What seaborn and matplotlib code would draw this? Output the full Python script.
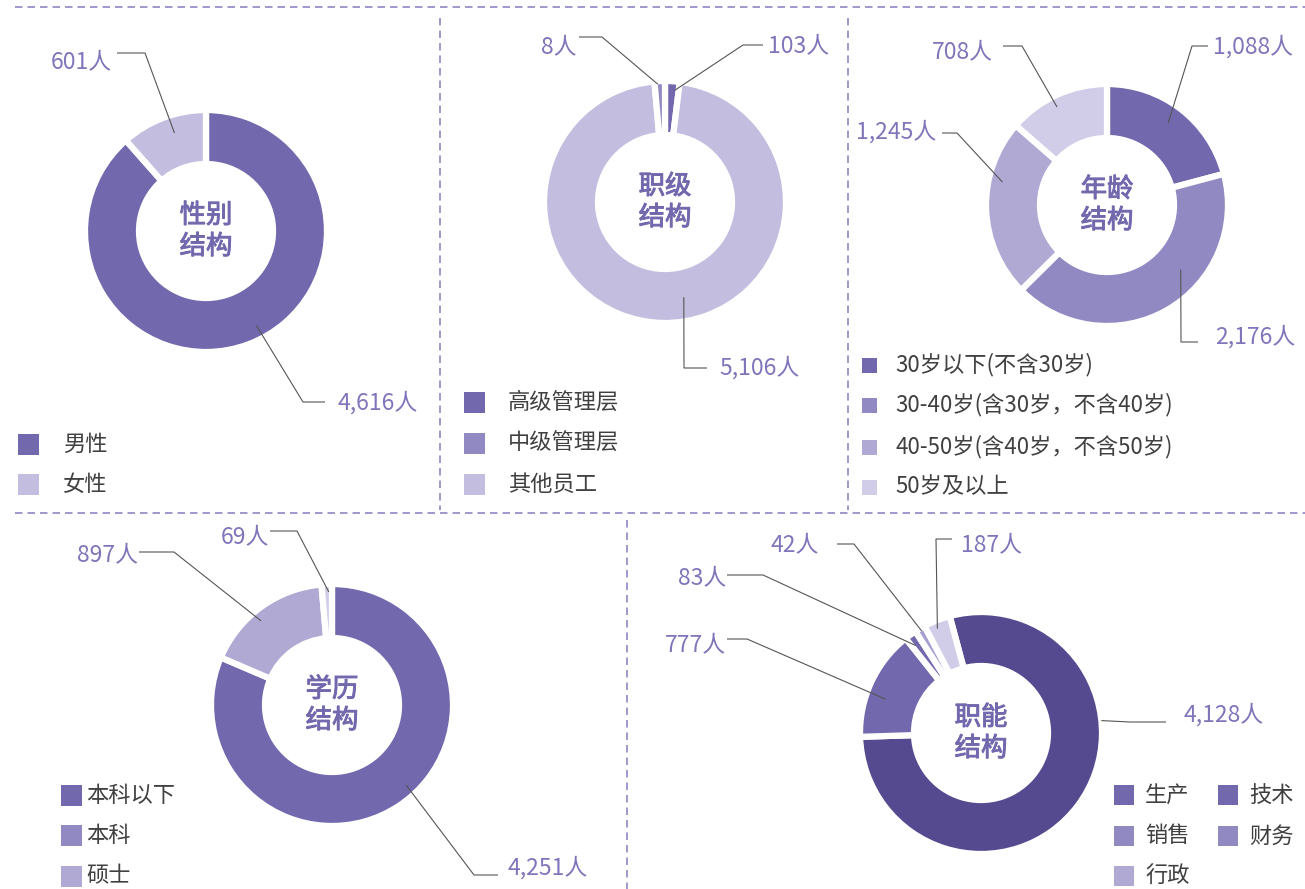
import numpy as np
import matplotlib
matplotlib.use('Agg')
import matplotlib.pyplot as plt
from matplotlib.patches import Rectangle
import matplotlib.patheffects as pe
import seaborn as sns

W, H = 1305, 889

# ---- data ----
gender_labels = ['男性', '女性']
gender_values = [4616, 601]

rank_labels = ['高级管理层', '中级管理层', '其他员工']
rank_values = [103, 8, 5106]
rank_order = [0, 2, 1]          # clockwise order of the slices

age_labels = ['30岁以下(不含30岁)', '30-40岁(含30岁，不含40岁)',
              '40-50岁(含40岁，不含50岁)', '50岁及以上']
age_values = [1088, 2176, 1245, 708]

edu_labels = ['本科以下', '本科', '硕士']
edu_values = [4251, 897, 69]

func_labels = ['生产', '技术', '销售', '财务', '行政']
func_values = [4128, 777, 83, 42, 187]

# ---- colours ----
DARKEST = '#554a90'
DARK = '#7268ad'
MID = '#9189c2'
LMID = '#b0a9d3'
LIGHT = '#c3bedf'
LIGHTEST = '#d1cce7'
LABEL_C = '#7e75ba'
TEXT_C = '#404040'
LINE_C = '#555555'
DASH_C = '#8f88c4'

R, RI = 121, 67

sns.set_theme(style='white')
plt.rcParams['font.family'] = ['Noto Sans CJK SC', 'DejaVu Sans']


def fy(py):
    return H - py


def donut(ax, values, order, colors, center, start, labels_layout, title,
          min_deg=5.0):
    vals = np.array([values[i] for i in order], dtype=float)
    share = vals / vals.sum() * 360
    # keep very small slices visible (like a min angle setting)
    small = share < min_deg
    disp = np.where(small, min_deg,
                    share * (360 - min_deg * small.sum()) / share[~small].sum())
    cx, cy = center
    wedges, _ = ax.pie(disp, colors=colors,
                       startangle=start, counterclock=False, radius=R,
                       center=(cx, fy(cy)), frame=True,
                       wedgeprops=dict(width=R - RI, edgecolor='white',
                                       linewidth=4.5))
    for k, idx in enumerate(order):
        lay = labels_layout[idx]
        w = wedges[k]
        ang = np.deg2rad(w.theta2 - lay['frac'] * (w.theta2 - w.theta1))
        ax_x = cx + lay['r'] * np.cos(ang)
        ax_y = fy(cy) + lay['r'] * np.sin(ang)
        xs = [ax_x, lay['elbow'][0], lay['end'][0]]
        ys = [ax_y, fy(lay['elbow'][1]), fy(lay['end'][1])]
        ax.plot(xs, ys, color=LINE_C, lw=0.8, solid_capstyle='butt')
        ax.text(lay['text'][0], fy(lay['text'][1]), f'{values[idx]:,}人',
                ha=lay['ha'], va='center', fontsize=16.5, color=LABEL_C,
                fontweight='light')
    # medium-weight centre title (regular glyphs with a thin outline)
    ax.text(cx, fy(cy), title, ha='center', va='center', fontsize=19,
            color=DARK, linespacing=1.2,
            path_effects=[pe.withStroke(linewidth=0.7, foreground=DARK)])


def legend(ax, labels, colors, xs, ys, tx, size, positions=None):
    for i, lab in enumerate(labels):
        col, row = positions[i] if positions else (0, i)
        x0, yc = xs[col], ys[row]
        ax.add_patch(Rectangle((x0, fy(yc) - size / 2), size, size,
                               color=colors[i], lw=0))
        ax.text(tx[col], fy(yc), lab, ha='left', va='center', fontsize=16,
                color=TEXT_C)


fig = plt.figure(figsize=(W / 100, H / 100), dpi=100)
ax = fig.add_axes([0, 0, 1, 1])

# ---- gender ----
donut(ax, gender_values, [0, 1], [DARK, LIGHT], (206, 231), 90, [
    dict(frac=0.477, r=107, elbow=(303, 402), end=(325, 402), text=(337, 403), ha='left'),
    dict(frac=0.57, r=103, elbow=(145, 53), end=(117, 53), text=(112, 62), ha='right'),
], '性别\n结构')
legend(ax, gender_labels, [DARK, LIGHT], [18], [444, 484], [63], 21)

# ---- rank ----
donut(ax, rank_values, rank_order, [DARK, LIGHT, MID], (665, 202), 90, [
    dict(frac=0.70, r=112, elbow=(743, 45), end=(763, 45), text=(768, 46), ha='left'),
    dict(frac=0.3, r=118, elbow=(602, 37), end=(579, 37), text=(576, 47), ha='right'),
    dict(frac=0.465, r=97, elbow=(684, 368), end=(707, 368), text=(719, 368), ha='left'),
], '职级\n结构')
legend(ax, rank_labels, [DARK, MID, LIGHT], [464], [402, 443, 484], [508], 21)

# ---- age ----
donut(ax, age_values, [0, 1, 2, 3], [DARK, MID, LMID, LIGHTEST], (1107, 205), 90, [
    dict(frac=0.49, r=102, elbow=(1192, 46), end=(1208, 46), text=(1213, 47), ha='left'),
    dict(frac=0.374, r=98, elbow=(1181, 342), end=(1198, 342), text=(1215, 337), ha='left'),
    dict(frac=0.665, r=107, elbow=(957, 133), end=(942, 133), text=(936, 132), ha='right'),
    dict(frac=0.447, r=110, elbow=(1022, 46), end=(1003, 46), text=(993, 52), ha='right'),
], '年龄\n结构')
legend(ax, age_labels, [DARK, MID, LMID, LIGHTEST], [862], [365, 405, 447, 487], [895], 15)

# ---- education ----
donut(ax, edu_values, [0, 1, 2], [DARK, LMID, LIGHTEST], (332, 705), 90, [
    dict(frac=0.468, r=109, elbow=(474, 875), end=(498, 875), text=(507, 868), ha='left'),
    dict(frac=0.432, r=110, elbow=(174, 552), end=(139, 552), text=(138, 555), ha='right'),
    dict(frac=0.68, r=113, elbow=(297, 531), end=(270, 531), text=(269, 537), ha='right'),
], '学历\n结构')
legend(ax, edu_labels, [DARK, MID, LMID], [61], [795, 835, 876], [86], 21)

# ---- function ----
donut(ax, func_values, [0, 1, 2, 3, 4], [DARKEST, DARK, DARK, '#a59fd0', LIGHTEST],
      (981, 733), 105, [
    dict(frac=0.35, r=121, elbow=(1130, 722), end=(1166, 722), text=(1183, 715), ha='left'),
    dict(frac=0.40, r=101, elbow=(747, 639), end=(727, 639), text=(726, 645), ha='right'),
    dict(frac=0.32, r=109, elbow=(763, 575), end=(727, 575), text=(726, 578), ha='right'),
    dict(frac=0.53, r=118, elbow=(854, 544), end=(837, 544), text=(819, 545), ha='right'),
    dict(frac=0.40, r=113, elbow=(936, 539), end=(952, 539), text=(961, 545), ha='left'),
], '职能\n结构')
legend(ax, func_labels, [DARK, DARK, MID, MID, LMID], [1114, 1218], [795, 836, 876],
       [1145, 1249], 20, positions=[(0, 0), (1, 0), (0, 1), (1, 1), (0, 2)])

# ---- dashed separators ----
dash = dict(color=DASH_C, lw=1.2, linestyle=(0, (4.5, 3)))
ax.plot([15, W], [fy(7), fy(7)], **dash)
ax.plot([15, W], [fy(513), fy(513)], **dash)
ax.plot([440, 440], [fy(18), fy(510)], **dash)
ax.plot([848, 848], [fy(18), fy(510)], **dash)
ax.plot([627, 627], [fy(520), fy(H)], **dash)

ax.set_xlim(0, W)
ax.set_ylim(0, H)
ax.set_aspect('auto')
ax.axis('off')

fig.savefig('out.png', dpi=100, facecolor='white')
